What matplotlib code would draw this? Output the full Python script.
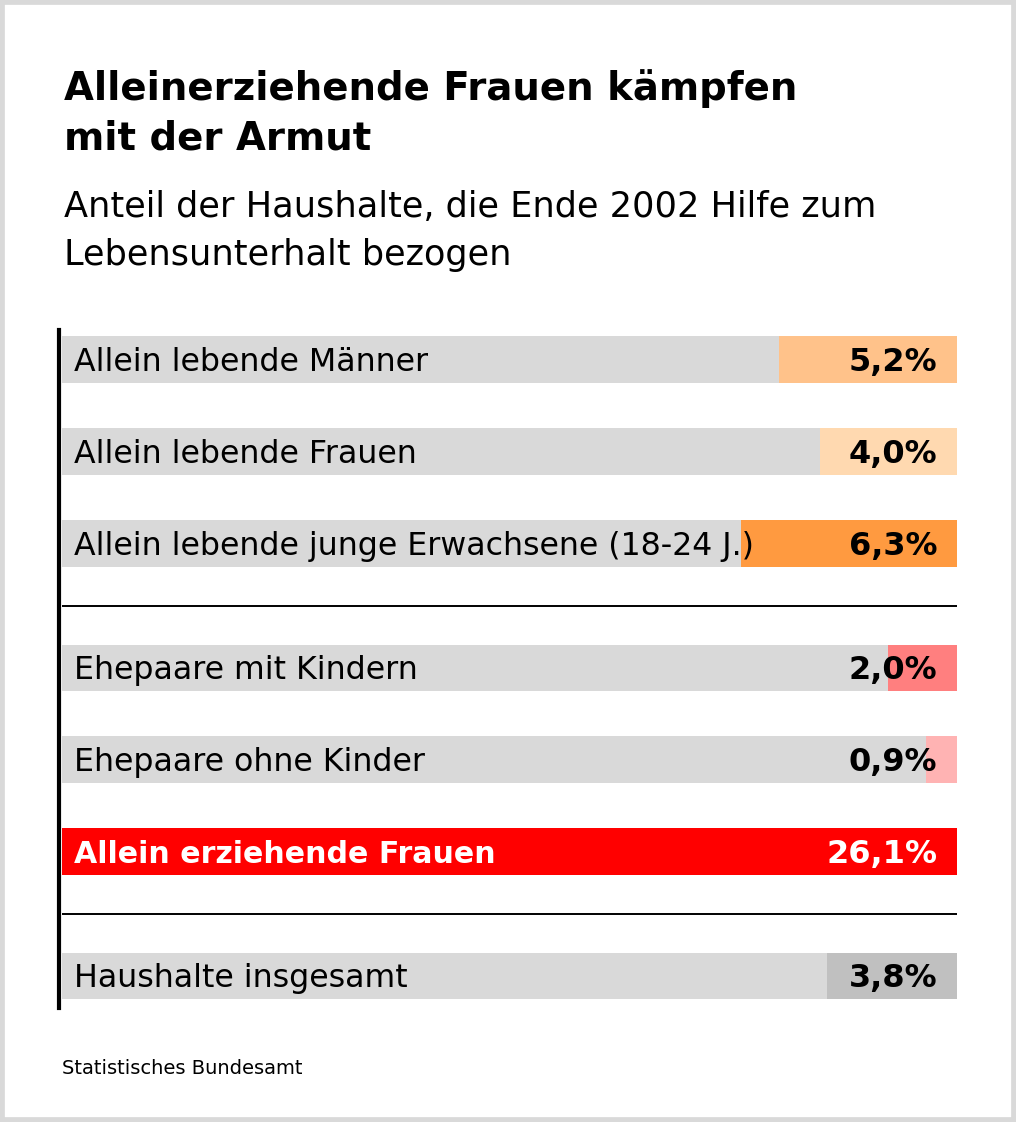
import matplotlib.pyplot as plt
from matplotlib.patches import Rectangle

plt.rcParams["font.family"] = ["DejaVu Sans"]

# data
categories = [
    "Allein lebende Männer",
    "Allein lebende Frauen",
    "Allein lebende junge Erwachsene (18-24 J.)",
    "Ehepaare mit Kindern",
    "Ehepaare ohne Kinder",
    "Allein erziehende Frauen",
    "Haushalte insgesamt",
]
values = [5.2, 4.0, 6.3, 2.0, 0.9, 26.1, 3.8]
value_labels = ["5,2%", "4,0%", "6,3%", "2,0%", "0,9%", "26,1%", "3,8%"]
groups = [0, 0, 0, 1, 1, 1, 2]
colors = ["#FFC28A", "#FFD9B0", "#FF9A40", "#FF7F7F", "#FFB3B3", "#FF0000", "#C0C0C0"]
highlight = "Allein erziehende Frauen"

title_lines = ["Alleinerziehende Frauen kämpfen", "mit der Armut"]
subtitle_lines = ["Anteil der Haushalte, die Ende 2002 Hilfe zum",
                  "Lebensunterhalt bezogen"]
source = "Statistisches Bundesamt"

W, H = 1016, 1122
fig = plt.figure(figsize=(W / 100, H / 100), dpi=100)
renderer = fig.canvas.get_renderer()


def fit_width(texts, target_px):
    # scale font size so that the first text gets the wanted pixel width
    w = texts[0].get_window_extent(renderer).width
    size = texts[0].get_fontsize() * target_px / w
    for t in texts:
        t.set_fontsize(size)
    return size


# grey frame around the card
fig.patches.append(Rectangle((0, 0), 1, 1, transform=fig.transFigure,
                             facecolor="white", edgecolor="#D9D9D9",
                             linewidth=7, zorder=-10))

t1 = fig.text(64 / W, 1 - 100 / H, title_lines[0], fontsize=28,
              fontweight="bold", va="baseline", ha="left")
t2 = fig.text(64 / W, 1 - 149 / H, title_lines[1], fontsize=28,
              fontweight="bold", va="baseline", ha="left")
fit_width([t1, t2], 732)

s1 = fig.text(64 / W, 1 - 217 / H, subtitle_lines[0], fontsize=22,
              va="baseline", ha="left")
s2 = fig.text(64 / W, 1 - 265 / H, subtitle_lines[1], fontsize=22,
              va="baseline", ha="left")
fit_width([s1, s2], 812)

src = fig.text(62 / W, 1 - 1074 / H, source, fontsize=13,
               va="baseline", ha="left")
fit_width([src], 240)

# bar area
gap = 0.35
pos = [i + g * gap for i, g in enumerate(groups)]
vmax = max(values)

ax = fig.add_axes([62 / W, 1 - 1008 / H, 895 / W, 678 / H])
ax.set_xlim(0, vmax)
ax.set_ylim(pos[-1] + 0.348, -0.326)

bh = 47 / 92
ax.barh(pos, [vmax] * len(values), height=bh, color="#D9D9D9", zorder=1)
ax.barh(pos, values, left=[vmax - v for v in values], height=bh,
        color=colors, zorder=2)

cat_texts = []
val_texts = []
hl_text = None
for p, cat, lab in zip(pos, categories, value_labels):
    is_hl = cat == highlight
    tc = "white" if is_hl else "black"
    t = ax.text(0.35, p + 0.125, cat, va="baseline", ha="left",
                fontsize=20, color=tc, zorder=3,
                fontweight="bold" if is_hl else "normal")
    if is_hl:
        hl_text = t
    else:
        cat_texts.append(t)
    val_texts.append(ax.text(vmax - 0.58, p + 0.125, lab, va="baseline",
                             ha="right", fontsize=20, color=tc,
                             fontweight="bold", zorder=3))

# longest label sets the size for all category labels
label_size = fit_width([cat_texts[2]] + cat_texts, 681)
val_size = fit_width([val_texts[5]] + val_texts, 111)
# bold highlight: between its measured width and the value label size
hl_size = fit_width([hl_text], 393)
hl_text.set_fontsize((hl_size + val_size) / 2)

# separators between groups
for g in range(1, max(groups) + 1):
    first = groups.index(g)
    ax.axhline((pos[first - 1] + pos[first]) / 2, color="black", lw=1.4,
               zorder=1)

for s in ["top", "right", "bottom"]:
    ax.spines[s].set_visible(False)
ax.spines["left"].set_linewidth(3)
ax.spines["left"].set_position(("outward", 2))
ax.set_xticks([])
ax.set_yticks([])
ax.patch.set_alpha(0)

fig.savefig("out.png", dpi=100)
